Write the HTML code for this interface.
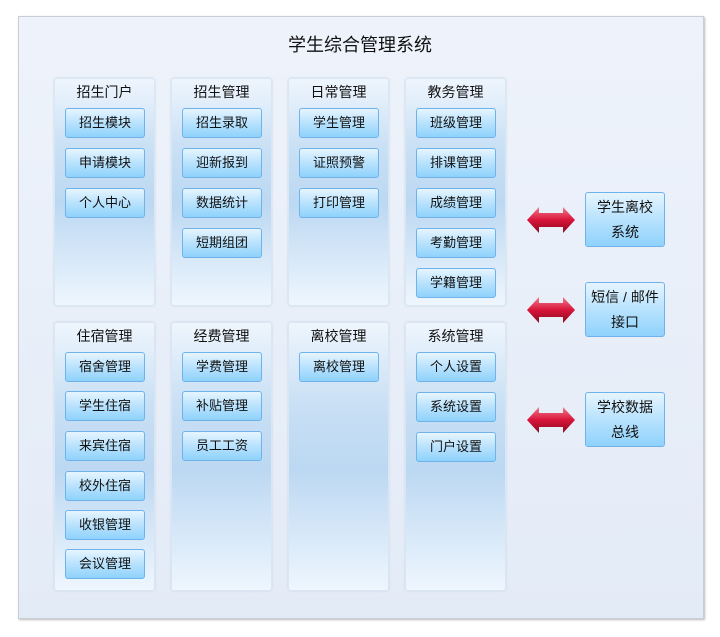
<!DOCTYPE html><html><head><meta charset="utf-8"><style>
body{margin:0;width:720px;height:637px;background:#fff;position:relative;font-family:"Liberation Sans","Noto Sans CJK SC",sans-serif;overflow:hidden}
.outer{position:absolute;left:18px;top:16px;width:684px;height:601px;background:linear-gradient(#eef3fb,#e3ebf7);border:1px solid #c9ced6;box-shadow:1px 1px 2px #bbb}
.title{position:absolute;left:0;top:31px;width:720px;text-align:center;font-size:18px;color:#111}
.col{position:absolute;width:101px;border:1px solid #d9e6f3;border-radius:3px;box-sizing:border-box;background:linear-gradient(#eef5fd 0%,#c9e0f5 30%,#bcd8f2 55%,#eef6fe 100%);box-shadow:0 0 2px #c8d3e0}
.col h{display:block;text-align:center;font-size:14px;color:#111;margin-top:3px}
.b{position:absolute;width:80px;height:30px;border:1px solid #6fb3ea;border-radius:3px;box-sizing:border-box;background:linear-gradient(#e6f5ff,#b8e2fd 50%,#8fd2fc);text-align:center;line-height:28px;font-size:13px;color:#111}
.r{height:55px;line-height:25px;padding-top:2px;font-size:14px}
.arr{position:absolute;left:527px;width:48px;height:30px}
</style></head><body>
<div class="outer"></div>
<div class="title">学生综合管理系统</div>

<div class="col" style="left:54px;top:78px;height:228px"><h>招生门户</h></div>
<div class="col" style="left:171px;top:78px;height:228px"><h>招生管理</h></div>
<div class="col" style="left:288px;top:78px;height:228px"><h>日常管理</h></div>
<div class="col" style="left:405px;top:78px;height:228px"><h>教务管理</h></div>
<div class="col" style="left:54px;top:322px;height:269px"><h>住宿管理</h></div>
<div class="col" style="left:171px;top:322px;height:269px"><h>经费管理</h></div>
<div class="col" style="left:288px;top:322px;height:269px"><h>离校管理</h></div>
<div class="col" style="left:405px;top:322px;height:269px"><h>系统管理</h></div>

<div class="b" style="left:65px;top:108px">招生模块</div>
<div class="b" style="left:65px;top:148px">申请模块</div>
<div class="b" style="left:65px;top:188px">个人中心</div>
<div class="b" style="left:182px;top:108px">招生录取</div>
<div class="b" style="left:182px;top:148px">迎新报到</div>
<div class="b" style="left:182px;top:188px">数据统计</div>
<div class="b" style="left:182px;top:228px">短期组团</div>
<div class="b" style="left:299px;top:108px">学生管理</div>
<div class="b" style="left:299px;top:148px">证照预警</div>
<div class="b" style="left:299px;top:188px">打印管理</div>
<div class="b" style="left:416px;top:108px">班级管理</div>
<div class="b" style="left:416px;top:148px">排课管理</div>
<div class="b" style="left:416px;top:188px">成绩管理</div>
<div class="b" style="left:416px;top:228px">考勤管理</div>
<div class="b" style="left:416px;top:268px">学籍管理</div>

<div class="b" style="left:65px;top:352px">宿舍管理</div>
<div class="b" style="left:65px;top:391px">学生住宿</div>
<div class="b" style="left:65px;top:431px">来宾住宿</div>
<div class="b" style="left:65px;top:471px">校外住宿</div>
<div class="b" style="left:65px;top:510px">收银管理</div>
<div class="b" style="left:65px;top:549px">会议管理</div>
<div class="b" style="left:182px;top:352px">学费管理</div>
<div class="b" style="left:182px;top:391px">补贴管理</div>
<div class="b" style="left:182px;top:431px">员工工资</div>
<div class="b" style="left:299px;top:352px">离校管理</div>
<div class="b" style="left:416px;top:352px">个人设置</div>
<div class="b" style="left:416px;top:392px">系统设置</div>
<div class="b" style="left:416px;top:432px">门户设置</div>

<div class="b r" style="left:585px;top:192px">学生离校<br>系统</div>
<div class="b r" style="left:585px;top:282px">短信 / 邮件<br>接口</div>
<div class="b r" style="left:585px;top:392px">学校数据<br>总线</div>

<svg width="0" height="0" style="position:absolute"><defs><linearGradient id="g" x1="0" y1="0" x2="0" y2="1"><stop offset="0" stop-color="#f27d8f"/><stop offset="0.5" stop-color="#d8143a"/><stop offset="1" stop-color="#8a0a20"/></linearGradient></defs></svg>
<svg class="arr" style="top:205px" viewBox="0 0 48 30"><polygon points="0,15 12,2 12,8 36,8 36,2 48,15 36,28 36,22 12,22 12,28" fill="url(#g)"/></svg>
<svg class="arr" style="top:295px" viewBox="0 0 48 30"><polygon points="0,15 12,2 12,8 36,8 36,2 48,15 36,28 36,22 12,22 12,28" fill="url(#g)"/></svg>
<svg class="arr" style="top:405px" viewBox="0 0 48 30"><polygon points="0,15 12,2 12,8 36,8 36,2 48,15 36,28 36,22 12,22 12,28" fill="url(#g)"/></svg>
</body></html>
